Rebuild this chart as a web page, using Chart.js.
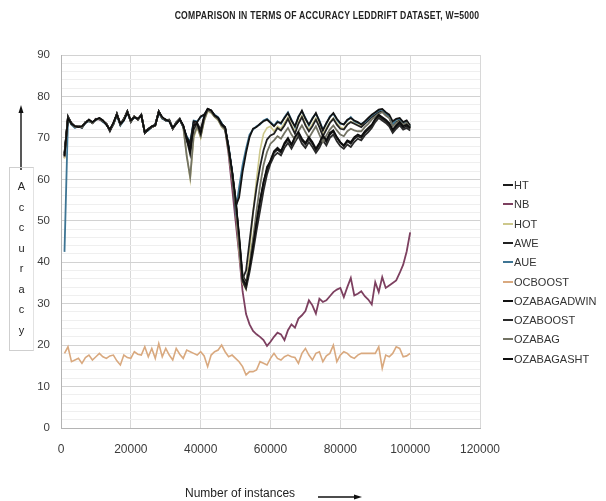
<!DOCTYPE html>
<html>
<head>
<meta charset="utf-8">
<script src="https://cdn.jsdelivr.net/npm/chart.js@4.4.1/dist/chart.umd.min.js"></script>
<style>
  html, body { margin: 0; padding: 0; background: #ffffff; }
  #wrap { position: relative; width: 606px; height: 501px; overflow: hidden;
          font-family: 'Liberation Sans', Arial, sans-serif; }
  #chart { position: absolute; left: 0; top: 0; }
  #title { position: absolute; left: 327px; top: 10px; white-space: nowrap;
           font-weight: bold; font-size: 10px; line-height: 12px; color: #222;
           transform: translateX(-50%) scaleX(0.86); letter-spacing: 0.3px; }
  #ybox { position: absolute; left: 9px; top: 167px; width: 23px; height: 182px;
          border: 1px solid #cfcfcf; border-right-color: #e2e2e2; }
  .yl { position: absolute; left: 9px; width: 25px; text-align: center;
        font-size: 11px; line-height: 12px; color: #222; }
  #xtitle { position: absolute; left: 185px; top: 486px; white-space: nowrap;
            font-size: 12px; line-height: 14px; color: #222; }
  .lg { position: absolute; left: 503px; white-space: nowrap; font-size: 11px;
        line-height: 14px; color: #333; }
  .lg i { display: inline-block; width: 10px; height: 2px; vertical-align: middle;
          margin-right: 1px; position: relative; top: -1px; }
</style>
</head>
<body>
<div id="wrap">
  <canvas id="chart" width="606" height="501"></canvas>
  <div id="title">COMPARISON IN TERMS OF ACCURACY LEDDRIFT DATASET, W=5000</div>
  <div id="ybox"></div>
  <div id="ylabel"></div>
  <div id="xtitle">Number of instances</div>
  <div id="legend"></div>
</div>
<script>
// Number of processed instances (x positions of every sample)
const instances = [
  1000, 2000, 3000, 4000, 5000, 6000, 7000, 8000, 9000, 10000,
  11000, 12000, 13000, 14000, 15000, 16000, 17000, 18000, 19000, 20000,
  21000, 22000, 23000, 24000, 25000, 26000, 27000, 28000, 29000, 30000,
  31000, 32000, 33000, 34000, 35000, 36000, 37000, 38000, 39000, 40000,
  41000, 42000, 43000, 44000, 45000, 46000, 47000, 48000, 49000, 50000,
  51000, 52000, 53000, 54000, 55000, 56000, 57000, 58000, 59000, 60000,
  61000, 62000, 63000, 64000, 65000, 66000, 67000, 68000, 69000, 70000,
  71000, 72000, 73000, 74000, 75000, 76000, 77000, 78000, 79000, 80000,
  81000, 82000, 83000, 84000, 85000, 86000, 87000, 88000, 89000, 90000,
  91000, 92000, 93000, 94000, 95000, 96000, 97000, 98000, 99000, 100000
];

// Accuracy (%) of each classifier
const HT = [
  66.4, 75.0, 73.4, 72.6, 72.8, 72.6, 73.8, 74.2, 73.6, 74.6,
  74.6, 74.0, 73.4, 71.8, 73.4, 75.8, 73.2, 74.4, 76.4, 74.0,
  75.2, 74.4, 75.6, 71.2, 72.0, 72.6, 73.0, 76.4, 74.8, 74.4,
  74.2, 72.2, 73.6, 74.6, 72.8, 70.0, 68.0, 73.8, 73.0, 70.4,
  74.8, 76.8, 76.4, 75.2, 74.6, 73.0, 72.4, 67.4, 61.8, 55.0,
  46.0, 37.0, 35.0, 40.0, 45.0, 50.0, 55.0, 59.0, 63.0, 64.4,
  66.4, 67.2, 66.4, 68.4, 69.6, 68.2, 70.0, 71.2, 69.4, 68.4,
  69.8, 68.6, 67.0, 68.4, 70.2, 69.0, 70.8, 71.6, 70.0, 68.8,
  68.0, 69.2, 68.6, 69.8, 70.4, 70.0, 71.2, 72.0, 72.8, 74.4,
  75.2, 74.6, 74.0, 73.2, 71.6, 72.6, 73.4, 72.4, 72.8, 72.2
];
const NB = [
  65.2, 74.6, 73.4, 72.6, 72.8, 72.6, 73.6, 74.2, 73.6, 74.6,
  74.4, 74.0, 73.4, 71.8, 73.4, 75.6, 73.2, 74.4, 76.2, 74.0,
  75.2, 74.4, 75.4, 71.4, 72.0, 72.6, 73.2, 76.2, 74.8, 74.4,
  74.2, 72.2, 73.6, 74.4, 72.8, 69.8, 67.6, 73.6, 73.2, 71.0,
  75.0, 76.8, 76.4, 75.2, 74.6, 73.0, 72.0, 66.0, 58.0, 50.0,
  42.0, 33.0, 27.5, 25.0, 23.4, 22.6, 22.0, 21.2, 19.8, 20.8,
  22.0, 23.0, 22.6, 21.2, 23.6, 25.0, 24.2, 26.4, 27.2, 28.2,
  30.8, 29.6, 27.6, 31.2, 30.4, 30.8, 31.8, 32.8, 33.4, 33.8,
  31.6, 34.0, 36.2, 32.0, 32.4, 33.0, 31.8, 31.0, 29.8, 35.2,
  32.8, 36.4, 33.8, 34.4, 35.0, 35.6, 37.4, 39.4, 42.6, 47.2
];
const HOT = [
  65.0, 74.6, 73.2, 72.6, 72.6, 72.8, 73.6, 74.0, 73.8, 74.4,
  74.6, 74.2, 73.2, 72.0, 73.2, 75.6, 73.4, 74.4, 76.2, 74.2,
  75.0, 74.6, 75.4, 71.6, 72.0, 72.8, 73.0, 76.2, 74.8, 74.4,
  74.2, 72.4, 73.4, 74.4, 72.6, 66.0, 60.0, 70.0, 72.6, 70.0,
  74.0, 76.4, 76.0, 75.0, 74.2, 72.6, 71.8, 66.6, 60.6, 53.4,
  43.0, 35.0, 33.4, 42.0, 52.0, 60.0, 67.0, 71.0, 72.4, 72.8,
  71.6, 72.8, 72.2, 73.6, 75.0, 73.2, 71.6, 73.8, 75.4, 73.4,
  72.0, 73.4, 74.8, 72.8, 70.8, 72.4, 73.8, 74.8, 73.6, 72.6,
  72.2, 73.4, 74.0, 73.6, 73.2, 72.8, 73.6, 74.4, 75.2, 75.8,
  76.4, 76.6, 75.8, 75.2, 73.4, 74.0, 74.4, 73.6, 74.0, 72.8
];
const AWE = [
  65.8, 74.8, 73.6, 72.8, 72.6, 72.8, 73.6, 74.4, 73.8, 74.4,
  74.8, 74.2, 73.2, 72.0, 73.6, 75.6, 73.4, 74.6, 76.2, 74.2,
  75.0, 74.6, 75.4, 71.4, 72.2, 72.8, 73.2, 76.2, 75.0, 74.2,
  74.4, 72.4, 73.4, 74.4, 73.0, 69.6, 66.0, 72.0, 73.6, 72.0,
  75.2, 77.0, 76.6, 75.4, 74.8, 73.4, 72.6, 67.6, 62.0, 55.4,
  45.0, 36.0, 38.0, 45.0, 52.0, 58.0, 63.0, 67.0, 69.6, 70.6,
  71.0, 72.4, 71.8, 73.0, 74.6, 72.8, 71.0, 73.4, 75.0, 73.0,
  71.6, 72.8, 74.4, 72.6, 70.4, 72.0, 73.6, 74.6, 73.2, 72.2,
  72.0, 73.2, 73.8, 73.4, 73.0, 72.6, 73.4, 74.2, 75.0, 75.6,
  76.2, 76.4, 75.6, 75.0, 73.0, 73.8, 74.2, 73.4, 73.8, 72.6
];
const AUE = [
  42.5, 74.6, 73.2, 72.4, 72.8, 72.4, 73.6, 74.0, 73.6, 74.4,
  74.6, 73.8, 73.2, 72.0, 73.2, 75.4, 73.0, 74.2, 76.0, 74.0,
  75.0, 74.4, 75.4, 71.4, 71.8, 72.6, 73.2, 76.0, 74.6, 74.2,
  74.0, 72.4, 73.6, 74.4, 72.6, 70.4, 69.0, 74.2, 74.0, 75.0,
  75.6, 76.8, 76.4, 75.6, 75.0, 73.6, 72.0, 68.0, 62.0, 52.4,
  58.0, 63.4, 67.4, 70.8, 72.0, 72.8, 73.2, 74.2, 74.6, 73.8,
  73.0, 74.0, 73.4, 75.0, 76.2, 74.4, 72.6, 75.2, 76.4, 74.8,
  73.0, 74.8, 75.8, 74.2, 72.0, 73.4, 75.2, 75.8, 74.4, 73.4,
  73.4, 74.2, 75.0, 74.0, 73.6, 73.4, 73.8, 74.6, 75.4, 76.0,
  76.6, 76.8, 76.0, 75.2, 73.2, 74.4, 74.6, 73.6, 73.8, 72.8
];
const OCBOOST = [
  18.0, 19.6, 16.0, 16.4, 16.8, 15.6, 17.0, 17.6, 16.4, 17.2,
  18.0, 17.2, 16.8, 17.4, 17.6, 16.2, 15.2, 17.6, 17.0, 16.8,
  18.4, 17.8, 17.6, 19.6, 17.2, 19.2, 16.8, 20.4, 17.2, 19.2,
  17.6, 16.4, 19.2, 17.8, 16.8, 18.8, 18.4, 18.0, 17.6, 18.4,
  17.4, 14.8, 17.6, 18.4, 18.8, 20.0, 18.4, 17.2, 17.6, 16.8,
  16.0, 14.8, 12.8, 13.6, 13.6, 14.0, 16.0, 15.6, 15.2, 16.8,
  18.0, 16.8, 16.4, 17.2, 17.6, 17.2, 17.0, 15.6, 18.0, 19.2,
  17.6, 16.4, 18.0, 18.4, 16.0, 17.4, 18.0, 20.0, 16.0, 17.6,
  18.4, 18.0, 17.2, 16.8, 17.6, 18.0, 18.0, 18.0, 18.0, 18.0,
  19.6, 14.4, 17.6, 17.2, 18.0, 19.6, 19.2, 17.2, 17.4, 18.0
];
const OZABAGADWIN = [
  66.0, 75.2, 73.4, 72.8, 72.8, 72.6, 73.8, 74.2, 73.6, 74.6,
  74.6, 74.0, 73.4, 71.8, 73.4, 75.8, 73.2, 74.4, 76.4, 74.0,
  75.2, 74.4, 75.6, 71.2, 72.0, 72.6, 73.0, 76.4, 74.8, 74.4,
  74.2, 72.2, 73.6, 74.6, 72.8, 70.2, 68.6, 74.0, 73.8, 75.2,
  75.6, 77.0, 76.6, 75.4, 74.8, 73.4, 72.6, 67.8, 61.6, 53.4,
  55.6, 61.8, 66.4, 70.2, 72.2, 72.6, 73.4, 74.0, 74.4, 73.6,
  72.8, 73.8, 73.6, 74.8, 76.0, 74.2, 72.8, 75.0, 76.6, 74.6,
  73.2, 74.6, 76.0, 74.0, 71.8, 73.6, 75.0, 76.0, 74.6, 73.6,
  73.2, 74.4, 74.8, 74.2, 73.8, 73.2, 74.0, 74.8, 75.6, 76.2,
  76.8, 77.0, 76.2, 75.6, 74.0, 74.6, 74.8, 73.8, 74.2, 73.0
];
const OZABOOST = [
  66.2, 75.0, 73.6, 72.6, 72.8, 72.4, 73.8, 74.2, 73.6, 74.6,
  74.6, 74.0, 73.4, 71.6, 73.4, 75.8, 73.2, 74.6, 76.4, 73.8,
  75.2, 74.4, 75.6, 71.2, 72.2, 72.6, 73.2, 76.4, 74.8, 74.2,
  74.2, 72.2, 73.8, 74.6, 72.8, 69.4, 67.4, 73.4, 73.2, 70.8,
  74.8, 76.8, 76.4, 75.2, 74.6, 73.0, 72.2, 67.2, 61.6, 54.6,
  45.6, 35.4, 33.6, 37.6, 42.4, 47.6, 52.4, 57.2, 61.2, 63.8,
  65.6, 66.4, 65.8, 67.6, 68.8, 67.4, 69.0, 70.4, 68.6, 67.6,
  69.0, 67.8, 66.4, 67.6, 69.4, 68.2, 70.0, 70.8, 69.2, 68.0,
  67.4, 68.4, 67.8, 69.0, 69.8, 69.4, 70.6, 71.4, 72.4, 73.8,
  74.8, 74.2, 73.6, 72.8, 71.2, 72.2, 73.0, 72.0, 72.4, 71.8
];
const OZABAG = [
  65.4, 74.8, 73.4, 72.6, 72.8, 72.6, 73.8, 74.2, 73.6, 74.4,
  74.6, 74.0, 73.4, 72.0, 73.4, 75.6, 73.2, 74.4, 76.2, 74.0,
  75.2, 74.4, 75.4, 71.4, 72.0, 72.6, 73.0, 76.2, 74.8, 74.4,
  74.2, 72.2, 73.6, 74.4, 72.8, 65.6, 60.6, 70.6, 72.8, 70.4,
  74.2, 76.6, 76.2, 75.2, 74.4, 72.8, 72.0, 66.8, 61.0, 54.0,
  44.4, 36.4, 34.6, 39.0, 45.6, 52.4, 58.4, 63.4, 66.6, 68.6,
  69.4, 70.4, 69.8, 71.2, 72.4, 70.8, 69.6, 71.6, 73.0, 71.4,
  70.0, 71.4, 72.8, 70.8, 69.0, 70.6, 72.0, 73.0, 71.8, 70.8,
  70.4, 71.6, 72.2, 71.8, 71.6, 71.6, 72.6, 73.4, 74.4, 75.2,
  75.8, 76.2, 75.4, 74.8, 72.8, 73.6, 74.0, 73.2, 73.6, 72.4
];
const OZABAGASHT = [
  65.6, 74.8, 73.4, 72.8, 72.6, 72.8, 73.6, 74.4, 73.8, 74.4,
  74.8, 74.2, 73.2, 72.0, 73.6, 75.6, 73.4, 74.2, 76.2, 74.2,
  75.0, 74.6, 75.4, 71.4, 72.0, 72.8, 73.0, 76.2, 75.0, 74.4,
  74.0, 72.4, 73.4, 74.4, 73.0, 69.8, 67.0, 73.0, 73.4, 71.0,
  75.0, 77.0, 76.6, 75.4, 74.8, 73.2, 72.4, 67.4, 61.8, 55.0,
  46.6, 36.0, 34.4, 38.6, 44.0, 49.6, 54.6, 59.4, 62.4, 64.6,
  66.8, 67.6, 66.8, 68.8, 70.0, 68.4, 70.2, 71.4, 69.8, 68.8,
  70.2, 69.0, 67.4, 68.8, 70.6, 69.4, 71.2, 71.8, 70.2, 69.0,
  68.2, 69.4, 69.0, 70.2, 70.8, 70.4, 71.6, 72.4, 73.2, 74.6,
  75.6, 75.0, 74.4, 73.6, 72.0, 73.0, 73.8, 72.8, 73.2, 72.4
];

// Axis ticks
const yTicks = [0, 10, 20, 30, 40, 50, 60, 70, 80, 90];
const xTicks = [0, 20000, 40000, 60000, 80000, 100000, 120000];

const seriesNames = ['HT', 'NB', 'HOT', 'AWE', 'AUE', 'OCBOOST',
                     'OZABAGADWIN', 'OZABOOST', 'OZABAG', 'OZABAGASHT'];
const seriesValues = [HT, NB, HOT, AWE, AUE, OCBOOST,
                      OZABAGADWIN, OZABOOST, OZABAG, OZABAGASHT];
const seriesColors = ['#1c1c1c', '#7d4060', '#cdc88c', '#222222', '#3e7594',
                      '#d9a97f', '#121212', '#2a2a2a', '#737364', '#0e0e0e'];

const datasets = seriesNames.map((name, i) => ({
  label: name,
  data: seriesValues[i].map((v, k) => ({ x: instances[k], y: v })),
  borderColor: seriesColors[i],
  backgroundColor: seriesColors[i],
  borderWidth: (i === 2 || i === 5) ? 1.6 : 1.8,
  pointRadius: 0,
  tension: 0,
  fill: false,
  order: seriesNames.length - 1 - i   // later series painted on top
}));

// arrows beside the axis titles
const arrowPlugin = {
  id: 'axisArrows',
  afterDraw(chart) {
    const ctx = chart.ctx;
    ctx.save();
    ctx.strokeStyle = '#111';
    ctx.fillStyle = '#111';
    ctx.lineWidth = 1.4;
    // vertical arrow above the y title
    ctx.beginPath(); ctx.moveTo(21, 170); ctx.lineTo(21, 111); ctx.stroke();
    ctx.beginPath(); ctx.moveTo(21, 105); ctx.lineTo(18.5, 113); ctx.lineTo(23.5, 113); ctx.closePath(); ctx.fill();
    // horizontal arrow after the x title
    ctx.beginPath(); ctx.moveTo(318, 497); ctx.lineTo(356, 497); ctx.stroke();
    ctx.beginPath(); ctx.moveTo(362, 497); ctx.lineTo(354, 494.5); ctx.lineTo(354, 499.5); ctx.closePath(); ctx.fill();
    ctx.restore();
  }
};

Chart.defaults.font.family = "'Liberation Sans', Arial, sans-serif";

new Chart(document.getElementById('chart'), {
  type: 'line',
  data: { datasets },
  options: {
    responsive: false,
    animation: false,
    devicePixelRatio: 1,
    layout: { padding: { left: 0, top: 55, right: 126, bottom: 0 } },
    plugins: { legend: { display: false }, tooltip: { enabled: false }, title: { display: false } },
    scales: {
      x: {
        type: 'linear',
        min: xTicks[0],
        max: xTicks[xTicks.length - 1],
        afterBuildTicks: (s) => { s.ticks = xTicks.map(v => ({ value: v })); },
        afterFit: (s) => { s.height = 73; },
        ticks: {
          color: '#3c3c3c', font: { size: 12 }, padding: 14, maxRotation: 0, autoSkip: false,
          callback: (v) => String(v)
        },
        grid: { color: '#d8d8d8', lineWidth: 1, drawTicks: false },
        border: { color: '#b4b4b4', width: 1 }
      },
      y: {
        type: 'linear',
        min: yTicks[0],
        max: yTicks[yTicks.length - 1],
        afterFit: (s) => { s.width = 61; },
        ticks: {
          stepSize: 2,
          autoSkip: false,
          color: '#3c3c3c',
          font: { size: 11.5 },
          padding: 11,
          callback: (v) => (yTicks.includes(v) ? String(v) : '')
        },
        grid: {
          drawTicks: false,
          lineWidth: 1,
          color: (c) => (c.tick && yTicks.includes(c.tick.value) ? '#d2d2d2' : '#efefef')
        },
        border: { color: '#b4b4b4', width: 1 }
      }
    }
  },
  plugins: [arrowPlugin]
});

// vertical y title, one letter per row
const yWord = 'Accuracy';
const yl = document.getElementById('ylabel');
yWord.split('').forEach((ch, i) => {
  const d = document.createElement('div');
  d.className = 'yl';
  d.textContent = ch;
  d.style.top = (180 + i * 20.5) + 'px';
  yl.appendChild(d);
});

// legend on the right
const lg = document.getElementById('legend');
seriesNames.forEach((name, i) => {
  const d = document.createElement('div');
  d.className = 'lg';
  d.style.top = (178 + i * 19.3) + 'px';
  const sw = document.createElement('i');
  sw.style.background = seriesColors[i];
  d.appendChild(sw);
  d.appendChild(document.createTextNode(name));
  lg.appendChild(d);
});
</script>
</body>
</html>
